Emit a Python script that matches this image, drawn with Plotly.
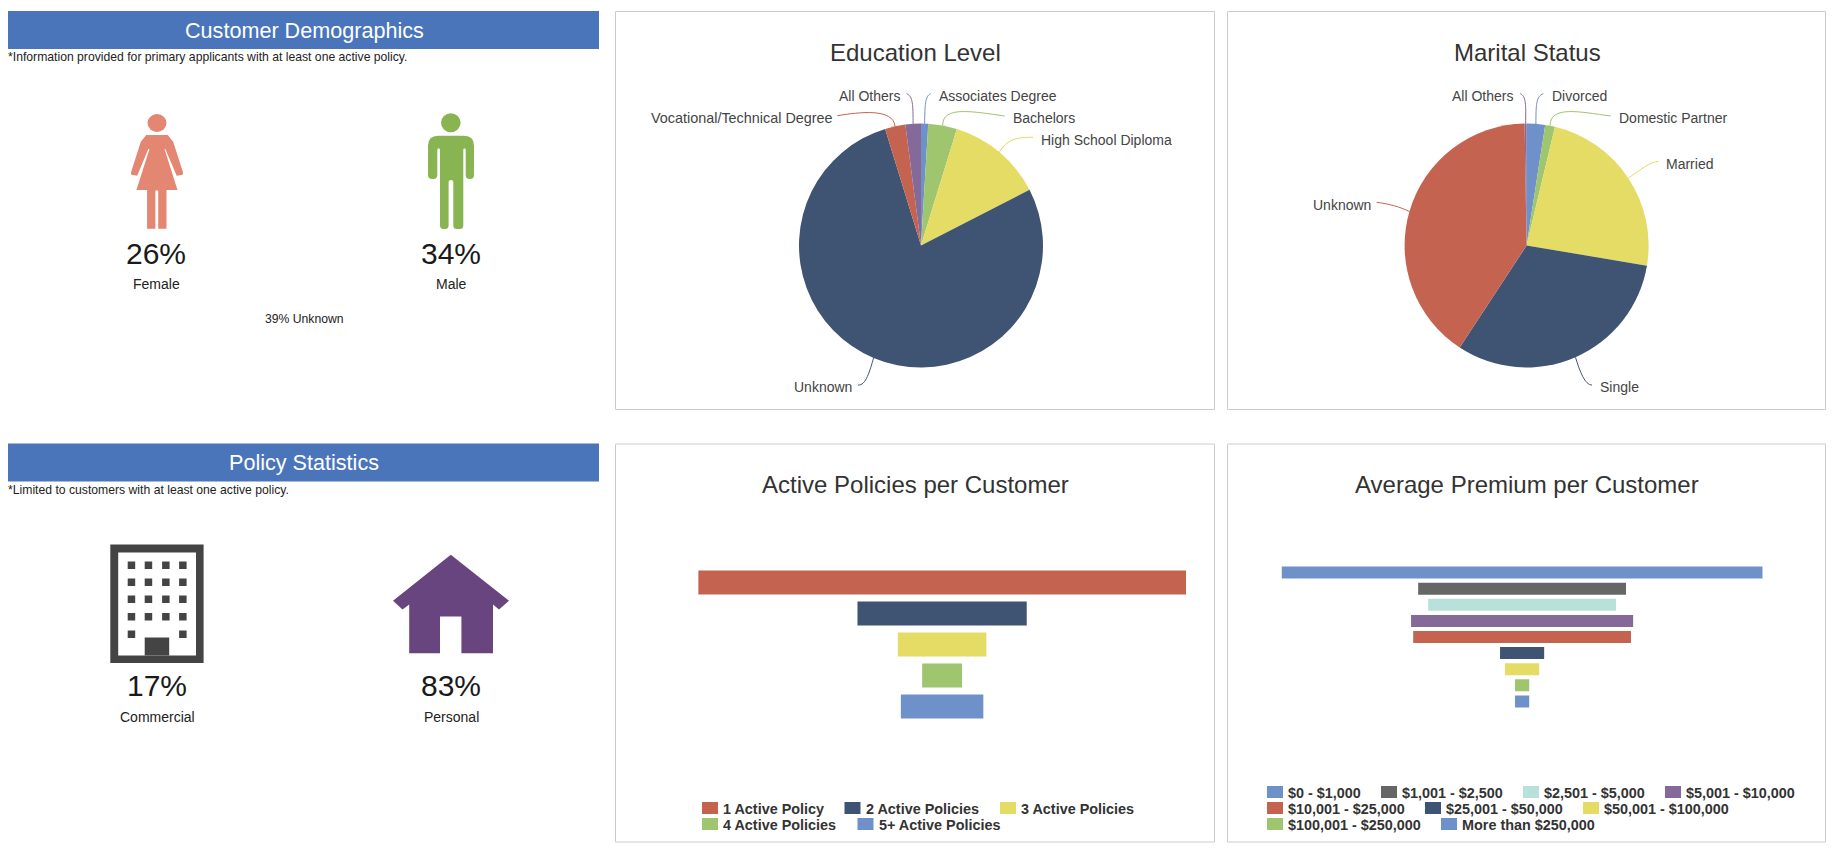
import math
import plotly.graph_objects as go

W = 1834
H = 851

# Data
gender_labels = ['Female', 'Male']
gender_pct = ['26%', '34%']
gender_unknown = '39% Unknown'
policy_labels = ['Commercial', 'Personal']
policy_pct = ['17%', '83%']

education_labels = ['Associates Degree', 'Bachelors', 'High School Diploma', 'Unknown',
                    'Vocational/Technical Degree', 'All Others']
education_values = [0.95, 3.8, 12.7, 77.8, 2.7, 2.05]

marital_labels = ['Divorced', 'Domestic Partner', 'Married', 'Single', 'Unknown', 'All Others']
marital_values = [2.44, 1.3, 23.9, 31.6, 40.5, 0.26]

active_labels = ['1 Active Policy', '2 Active Policies', '3 Active Policies',
                 '4 Active Policies', '5+ Active Policies']
active_values = [56.2, 19.5, 10.2, 4.6, 9.5]

premium_labels = ['$0 - $1,000', '$1,001 - $2,500', '$2,501 - $5,000', '$5,001 - $10,000',
                  '$10,001 - $25,000', '$25,001 - $50,000', '$50,001 - $100,000',
                  '$100,001 - $250,000', 'More than $250,000']
premium_values = [33.8, 14.6, 13.2, 15.6, 15.3, 3.1, 2.4, 1.0, 1.0]

# Colours
BLUE = '#6f91c9'
GREEN = '#a0c56f'
YELLOW = '#e4dc65'
NAVY = '#3f5373'
RED = '#c46450'
PURPLE = '#856998'
GRAY = '#666666'
TEAL = '#b8e1dc'

education_colors = [BLUE, GREEN, YELLOW, NAVY, RED, PURPLE]
marital_colors = [BLUE, GREEN, YELLOW, NAVY, RED, PURPLE]
active_colors = [RED, NAVY, YELLOW, GREEN, BLUE]
premium_colors = [BLUE, GRAY, TEAL, PURPLE, RED, NAVY, YELLOW, GREEN, BLUE]

FONT = 'Liberation Sans'
shapes = []
notes = []


def text(x, y, s, size=14, color='#222222', anchor='center', bold=False):
    if bold:
        s = '<b>' + s + '</b>'
    # annotation box keeps a 1px border, take it back on anchored sides
    if anchor == 'left':
        x -= 1
    elif anchor == 'right':
        x += 1
    notes.append(dict(x=x, y=y, xref='x', yref='y', text=s, showarrow=False, xanchor=anchor,
                      yanchor='middle', borderpad=0, font=dict(family=FONT, size=size, color=color)))


def rect(x0, y0, x1, y1, fill, line=None, layer='above'):
    shapes.append(dict(type='rect', xref='x', yref='y', x0=x0, y0=y0, x1=x1, y1=y1, fillcolor=fill,
                       layer=layer, line=dict(color=line, width=1) if line else dict(width=0)))


def path(d, fill, line=None, width=1):
    shapes.append(dict(type='path', xref='x', yref='y', path=d, fillcolor=fill, layer='above',
                       line=dict(color=line, width=width) if line else dict(width=0)))


def ellipse(cx, cy, rx, ry, fill):
    shapes.append(dict(type='circle', xref='x', yref='y', x0=cx - rx, y0=cy - ry, x1=cx + rx, y1=cy + ry,
                       fillcolor=fill, layer='above', line=dict(width=0)))


# Cards and headers
for x0, x1 in [(615.5, 1214.5), (1227.5, 1825.5)]:
    for y0, y1 in [(11.5, 409.5), (444, 842)]:
        rect(x0, y0, x1, y1, 'white', '#cccccc', layer='below')
for y0, y1, title, note, yn in [(11, 49, 'Customer Demographics',
                                 '*Information provided for primary applicants with at least one active policy.', 57),
                                (443.5, 481.5, 'Policy Statistics',
                                 '*Limited to customers with at least one active policy.', 489.5)]:
    rect(8, y0, 599, y1, '#4a75ba')
    text(304, (y0 + y1) / 2, title, size=21.6, color='white')
    text(8, yn, note, size=12.2, color='#222222', anchor='left')

# Female icon
F_COL = '#e38672'
ellipse(157, 123, 9.5, 9, F_COL)
path('M146.3,135 L167.7,135 L173.2,141.7 L183.1,172.7 L182.7,174.7 L176.7,175.7 L165.3,149 L164.5,149 '
     'L177.5,190 L166.5,190 L166.5,228.7 L158.2,228.7 L158.2,190.5 L155.4,190.5 L155.4,228.7 L147.1,228.7 '
     'L147.1,190 L136.4,190 L149.5,149 L148.3,149 L137.2,175.7 L131.3,174.7 L130.9,172.7 L140.8,141.7 Z', F_COL)

# Male icon
M_COL = '#88b551'
ellipse(450.8, 122.8, 9.8, 9.5, M_COL)
path('M438,135.7 L464,135.7 Q474,135.7 474,145.7 L474,175 Q474,179 470,179 L469.7,179 Q465.7,179 465.7,175 '
     'L465.7,150 Q465.7,148.3 464.5,148.3 Q463.3,148.3 463.3,150 L463.3,225.5 Q463.3,229 459.8,229 L456.8,229 '
     'Q453.3,229 453.3,225.5 L453.3,182 Q453.3,180 451,180 Q448.6,180 448.6,182 L448.6,225.5 Q448.6,229 445,229 '
     'L443.5,229 Q440,229 440,225.5 L440,150 Q440,148.3 438.7,148.3 Q437.3,148.3 437.3,150 L437.3,175 '
     'Q437.3,179 433.3,179 L432,179 Q428,179 428,175 L428,145.7 Q428,135.7 438,135.7 Z', M_COL)

# Building icon
B_COL = '#444444'
rect(110.3, 544.5, 203.6, 663, B_COL)
rect(118.2, 552.5, 196, 655.5, 'white')
win_x = [127.7, 144.7, 162.1, 179.1]
win_y = [561.5, 578.5, 595.5, 613]
for wy in win_y:
    for wx in win_x:
        rect(wx, wy, wx + 7.5, wy + 7.5, B_COL)
rect(win_x[0], 630.5, win_x[0] + 7.5, 638, B_COL)
rect(win_x[3], 630.5, win_x[3] + 7.5, 638, B_COL)
rect(144.7, 637.5, 169.2, 655.5, B_COL)

# House icon
path('M450.8,554.8 L509,600.8 L499,609.5 L493,604.5 L493,653.2 L461.4,653.2 L461.4,616.5 L440,616.5 L440,653.2 '
     'L409.2,653.2 L409.2,604.5 L402.5,609.5 L393,600.8 Z', '#694580')

# Big percentages and their captions
for x, pct, lab in zip([156, 451], gender_pct, gender_labels):
    text(x, 253, pct, size=30, color='#1a1a1a')
    text(x, 284, lab, size=14, color='#222222')
text(304, 319, gender_unknown, size=12.2, color='#222222')
for x, x_lab, pct, lab in zip([156.5, 451], [157, 451], policy_pct, policy_labels):
    text(x, 685, pct, size=30, color='#1a1a1a')
    text(x_lab, 716.5, lab, size=14, color='#222222')

# Panel titles
text(915.6, 52.7, 'Education Level', size=24, color='#333333')
text(1527.4, 52.7, 'Marital Status', size=24, color='#333333')
text(915, 484.3, 'Active Policies per Customer', size=24, color='#333333')
text(1527, 484.3, 'Average Premium per Customer', size=24, color='#333333')


def pie_trace(labels, values, colors, cx, cy, r):
    return go.Pie(labels=labels, values=values, sort=False, direction='clockwise', rotation=0,
                  textinfo='none', showlegend=False, marker=dict(colors=colors, line=dict(width=0)),
                  domain=dict(x=[(cx - r) / W, (cx + r) / W], y=[1 - (cy + r) / H, 1 - (cy - r) / H]))


def pie_labels(labels, values, colors, cx, cy, r, spots):
    # every label leader starts on the rim at the middle of its slice
    total = sum(values)
    run = 0
    for lab, val, col in zip(labels, values, colors):
        mid = math.radians((run + val / 2) / total * 360)
        run += val
        rx = cx + r * math.sin(mid)
        ry = cy - r * math.cos(mid)
        tx, ty, anchor, ex, ey, c1x, c1y, c2x, c2y = spots[lab]
        size = 14.4 if lab.startswith('Vocational') else 14
        text(tx, ty, lab, size=size, color='#444444', anchor=anchor)
        path(f'M{ex},{ey} C{c1x},{c1y} {c2x},{c2y} {rx:.1f},{ry:.1f}', 'rgba(0,0,0,0)', col, 1)


education_spots = {
    'Associates Degree': (939.4, 96, 'left', 930.7, 93.7, 925, 96, 925, 105),
    'Bachelors': (1013.3, 118, 'left', 1004.6, 116, 975, 112, 942, 105),
    'High School Diploma': (1041.4, 140.3, 'left', 1033, 137.3, 1015, 137, 1007, 140),
    'Unknown': (852.2, 387, 'right', 858, 385, 866, 386, 870, 370),
    'Vocational/Technical Degree': (832.6, 118, 'right', 837.4, 115.7, 860, 112, 893, 108),
    'All Others': (899.6, 96, 'right', 906.6, 93.7, 913, 96, 913, 105),
}
marital_spots = {
    'Divorced': (1551.6, 96, 'left', 1543.4, 93.7, 1536, 96, 1536, 105),
    'Domestic Partner': (1619.4, 118, 'left', 1610.8, 116, 1580, 112, 1550, 105),
    'Married': (1666.4, 164, 'left', 1658.5, 161.3, 1650, 162, 1640, 170),
    'Single': (1600.2, 387, 'left', 1592, 385, 1585, 385, 1580, 372),
    'Unknown': (1370.5, 205.3, 'right', 1376.6, 202.3, 1390, 204, 1400, 207),
    'All Others': (1513.4, 96, 'right', 1520.3, 93.7, 1526, 96, 1526, 105),
}

fig = go.Figure()
fig.add_trace(pie_trace(education_labels, education_values, education_colors, 921, 245.5, 122))
fig.add_trace(pie_trace(marital_labels, marital_values, marital_colors, 1526.6, 245.5, 122))
pie_labels(education_labels, education_values, education_colors, 921, 245.5, 122, education_spots)
pie_labels(marital_labels, marital_values, marital_colors, 1526.6, 245.5, 122, marital_spots)

# Funnels
fig.add_trace(go.Funnel(y=active_labels, x=active_values, orientation='h', width=24 / 31,
                        marker=dict(color=active_colors, line=dict(width=0)), connector=dict(visible=False),
                        textinfo='none', showlegend=False, xaxis='x2', yaxis='y2'))
fig.add_trace(go.Funnel(y=premium_labels, x=premium_values, orientation='h', width=12 / 16.1,
                        marker=dict(color=premium_colors, line=dict(width=0)), connector=dict(visible=False),
                        textinfo='none', showlegend=False, xaxis='x3', yaxis='y3'))


def legend_row(y, items):
    # items are (swatch left, label, colour)
    for x, lab, col in items:
        rect(x, y - 6, x + 16, y + 6, col)
        text(x + 21, y + 0.7, lab, size=14.4, color='#333333', anchor='left', bold=True)


legend_row(808, [(702, active_labels[0], active_colors[0]), (844.5, active_labels[1], active_colors[1]),
                 (1000, active_labels[2], active_colors[2])])
legend_row(824, [(702, active_labels[3], active_colors[3]), (857.5, active_labels[4], active_colors[4])])
legend_row(792, [(1267, premium_labels[0], premium_colors[0]), (1381, premium_labels[1], premium_colors[1]),
                 (1523, premium_labels[2], premium_colors[2]), (1665, premium_labels[3], premium_colors[3])])
legend_row(808, [(1267, premium_labels[4], premium_colors[4]), (1425, premium_labels[5], premium_colors[5]),
                 (1583, premium_labels[6], premium_colors[6])])
legend_row(824, [(1267, premium_labels[7], premium_colors[7]), (1441, premium_labels[8], premium_colors[8])])


def hidden(**kw):
    return dict(visible=False, fixedrange=True, showgrid=False, zeroline=False, **kw)


fig.update_layout(
    width=W, height=H, margin=dict(l=0, r=0, t=0, b=0, pad=0), paper_bgcolor='white', plot_bgcolor='rgba(0,0,0,0)',
    showlegend=False, shapes=shapes, annotations=notes, font=dict(family=FONT),
    # full page axis in pixels, used to place shapes and text
    xaxis=hidden(range=[0, W], domain=[0, 1], anchor='y'),
    yaxis=hidden(range=[H, 0], domain=[0, 1], anchor='x'),
    xaxis2=hidden(range=[-active_values[0] / 2, active_values[0] / 2], domain=[698.2 / W, 1186 / W], anchor='y2'),
    yaxis2=hidden(range=[4.5, -0.5], domain=[1 - 722 / H, 1 - 567 / H], anchor='x2', type='category'),
    xaxis3=hidden(range=[-premium_values[0] / 2, premium_values[0] / 2], domain=[1281.5 / W, 1762.7 / W], anchor='y3'),
    yaxis3=hidden(range=[8.5, -0.5], domain=[1 - 709.5 / H, 1 - 564.5 / H], anchor='x3', type='category'),
)

fig.write_html("out.html", config=dict(displayModeBar=False),
               post_script="document.body.style.margin='0';")
